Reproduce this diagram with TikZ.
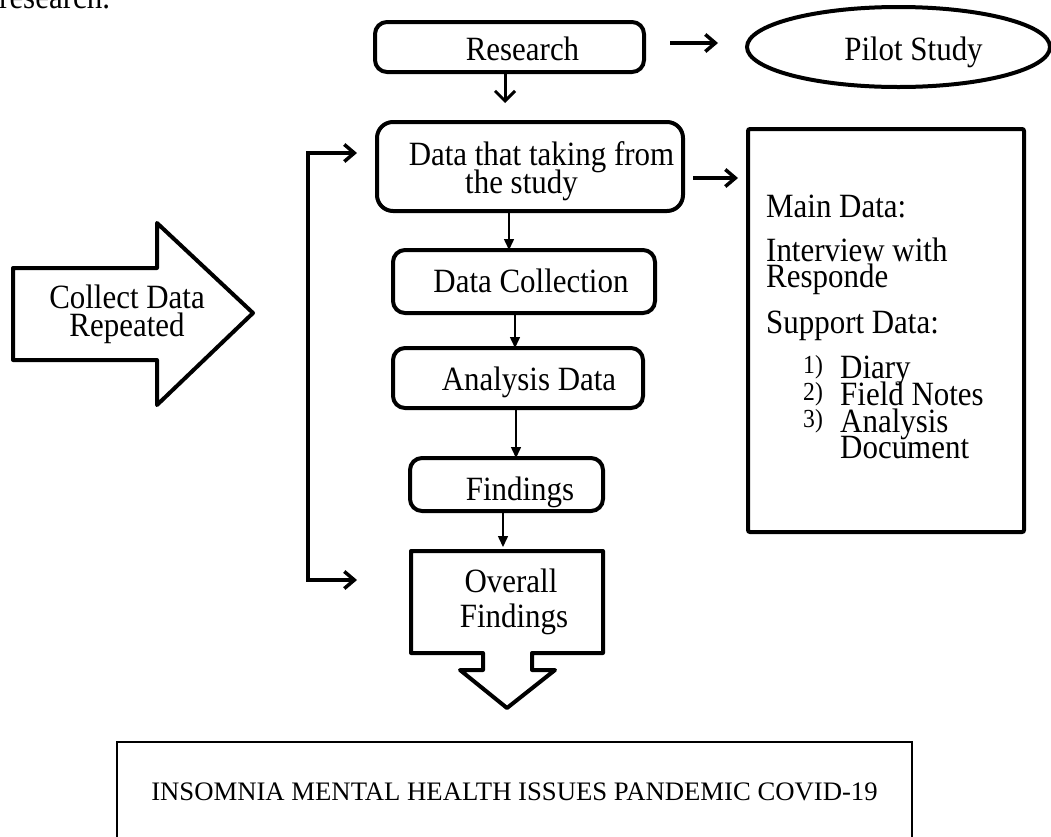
\documentclass[tikz,border=0pt]{standalone}
\usepackage{fontspec}
\setmainfont{Liberation Serif}
\newfontfamily\tallfont[FakeStretch=0.91]{Liberation Serif}
\usetikzlibrary{arrows.meta,calc,shapes.geometric}
\begin{document}
\begin{tikzpicture}[x=1pt,y=-1pt,
  box/.style={draw, line width=4pt, rounded corners=12pt, inner sep=0pt, outer sep=0pt},
  sqbox/.style={draw, line width=4pt, rounded corners=2pt, inner sep=0pt, outer sep=0pt},
  txt/.style={font=\tallfont\fontsize{34}{28}\selectfont, inner sep=0pt, anchor=base},
  ltxt/.style={font=\tallfont\fontsize{34}{28}\selectfont, inner sep=0pt, anchor=base west},
  numtxt/.style={font=\tallfont\fontsize{26}{24}\selectfont, inner sep=0pt, anchor=base west},
  thin/.style={line width=1.5pt, -{Triangle[length=11pt,width=10pt]}},
  bold/.style={line width=3.5pt, -{Straight Barb[length=10pt,width=17pt]}},
  dn/.style={line width=3pt, -{Straight Barb[length=10pt,width=20pt]}},
  loopline/.style={line width=3.5pt, {Straight Barb[length=10pt,width=17pt]}-{Straight Barb[length=10pt,width=17pt]}},
  shapeline/.style={line width=4pt, line join=round}
]
\useasboundingbox (0,0) rectangle (1051,836);
\clip (0,0) rectangle (1051,836);

% clipped text at top
\node[ltxt] (cut) at (-1,8) {research.};

% boxes
\node[box, minimum width=269pt, minimum height=50pt] (research) at (509.5,47) {};
\node[draw, ellipse, line width=4pt, inner sep=0pt, outer sep=0pt, minimum width=303pt, minimum height=80pt] (pilot) at (898.5,47) {};
\node[box, rounded corners=16pt, minimum width=306pt, minimum height=89pt] (data) at (530,166.5) {};
\node[box, minimum width=262pt, minimum height=63pt] (dc) at (524,281.5) {};
\node[box, minimum width=250pt, minimum height=60pt] (analysis) at (518,378) {};
\node[box, minimum width=193pt, minimum height=53pt] (findings) at (506.5,484.5) {};
\node[sqbox, minimum width=276pt, minimum height=403pt] (rbox) at (886,330.5) {};
\node[inner sep=0pt, outer sep=0pt, minimum width=192pt, minimum height=102pt] (overall) at (507,602) {};
\node[draw, line width=2pt, inner sep=0pt, outer sep=0pt, minimum width=795pt, minimum height=140pt, anchor=north west] (result) at (117,742) {};

% overall findings shape with down arrow
\draw[shapeline] (411,551) -- (603,551) -- (603,653) -- (532,653) -- (532,670) -- (555,670)
  -- (507,708) -- (460,670) -- (483,670) -- (483,653) -- (411,653) -- cycle;

% big right arrow
\draw[shapeline] (13,268) -- (157,268) -- (157,223) -- (253,313) -- (157,405) -- (157,360) -- (13,360) -- cycle;

% texts
\node[txt] (tresearch) at (522.5,60) {Research};
\node[txt] (tpilot) at (913.5,60) {Pilot Study};
\node[txt] (tdata1) at (541.5,165) {Data that taking from};
\node[txt] (tdata2) at (521.5,193) {the study};
\node[txt] (tdc) at (531,292) {Data Collection};
\node[txt] (tanalysis) at (529,390) {Analysis Data};
\node[txt] (tfindings) at (520,500) {Findings};
\node[txt] (toverall1) at (511,592) {Overall};
\node[txt] (toverall2) at (514,627) {Findings};
\node[txt] (tcollect1) at (127,308) {Collect Data};
\node[txt] (tcollect2) at (127,336) {Repeated};

\node[ltxt] (tmain) at (766,217) {Main Data:};
\node[ltxt] (tint1) at (766,261) {Interview with};
\node[ltxt] (tint2) at (766,287) {Responde};
\node[ltxt] (tsup) at (766,333) {Support Data:};
\node[numtxt] (n1) at (803,373) {1)};
\node[numtxt] (n2) at (803,400) {2)};
\node[numtxt] (n3) at (803,427) {3)};
\node[ltxt] (i1) at (840,378) {Diary};
\node[ltxt] (i2) at (840,405) {Field Notes};
\node[ltxt] (i3) at (840,432) {Analysis};
\node[ltxt] (i4) at (840,458) {Document};

\node[txt, font=\fontsize{26.7}{28}\selectfont] (tresult) at (514.5,800) {INSOMNIA MENTAL HEALTH ISSUES PANDEMIC COVID-19};

% connectors
\coordinate (ax) at (505,0);
\coordinate (bx) at (509,0);
\coordinate (cx) at (515,0);
\coordinate (dx) at (516,0);
\coordinate (ex) at (503,0);

\draw[bold] ($(research.east)+(26,-4)$) -- ($(pilot.west)+(-29,-4)$);
\draw[dn] (ax |- research.south) -- ($(ax |- data.north)+(0,-19)$);
\draw[bold] ($(data.east)+(10,11.5)$) -- ($(rbox.west |- data.east)+(-10,11.5)$);
\draw[thin] (bx |- data.south) -- (bx |- dc.north);
\draw[thin] (cx |- dc.south) -- (cx |- analysis.north);
\draw[thin] (dx |- analysis.south) -- (dx |- findings.north);
\draw[thin] (ex |- findings.south) -- ($(ex |- overall.north)+(0,-4)$);
\draw[loopline] ($(overall.west)+(-54,-22)$) -- ++(-49,0) |- ($(data.west)+(-20,-13.5)$);
\end{tikzpicture}
\end{document}
